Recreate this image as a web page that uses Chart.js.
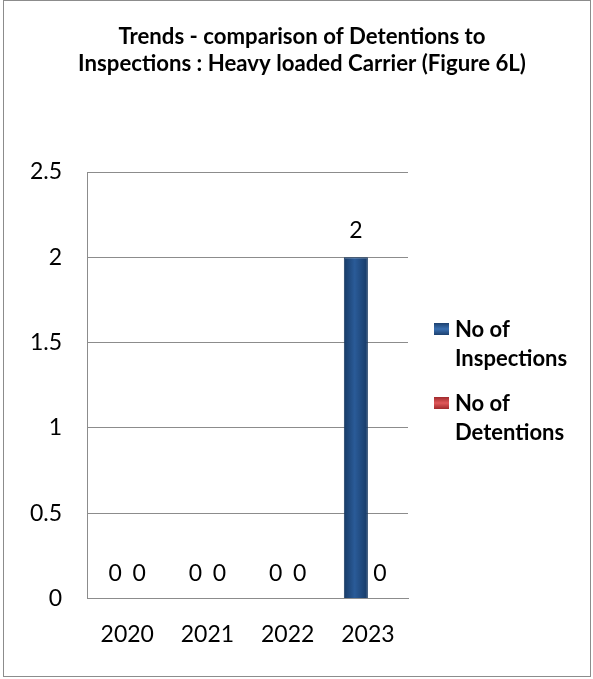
<!DOCTYPE html>
<html>
<head>
<meta charset="utf-8">
<script src="https://cdn.jsdelivr.net/npm/chart.js@4"></script>
<style>
  html, body { margin: 0; padding: 0; background: #fff; }
  #frame {
    position: absolute; left: 3px; top: 0;
    width: 586px; height: 675px;
    border: 1px solid #8c8c8c;
  }
  canvas { display: block; }
</style>
</head>
<body>
<div id="frame"><canvas id="chart" width="586" height="675"></canvas></div>
<script>
// data
const years       = ['2020', '2021', '2022', '2023'];
const inspections = [0, 0, 0, 2];
const detentions  = [0, 0, 0, 0];
const seriesNames = [['No of', 'Inspections'], ['No of', 'Detentions']];
const titleLines  = ['Trends - comparison of Detentions to', 'Inspections : Heavy loaded Carrier (Figure 6L)'];
const yTicks      = ['0', '0.5', '1', '1.5', '2', '2.5'];

const FONT = 'Lato, "Open Sans", sans-serif';

// cylinder-ish shading across each bar
function barFill(dark, light) {
  return function (c) {
    const xs = c.chart.scales.x;
    if (!xs || c.dataIndex === undefined) return light;
    const bw = xs.width / years.length * 0.6 / 2;
    const cx = xs.getPixelForValue(c.dataIndex) + (c.datasetIndex - 0.5) * bw;
    if (!isFinite(cx) || !isFinite(bw) || bw <= 0) return light;
    const g = c.chart.ctx.createLinearGradient(cx - bw / 2, 0, cx + bw / 2, 0);
    g.addColorStop(0, dark);
    g.addColorStop(0.45, light);
    g.addColorStop(1, dark);
    return g;
  };
}

// title drawn by hand so it can span the full width
const wideTitle = {
  id: 'wideTitle',
  afterDraw(chart) {
    const ctx = chart.ctx;
    ctx.save();
    ctx.font = 'bold 22.2px ' + FONT;
    ctx.fillStyle = '#000';
    ctx.textAlign = 'center';
    ctx.textBaseline = 'middle';
    titleLines.forEach((t, i) => ctx.fillText(t, 298, 36 + i * 27));
    ctx.restore();
  }
};

// value labels above each bar
const valueLabels = {
  id: 'valueLabels',
  afterDatasetsDraw(chart) {
    const ctx = chart.ctx;
    ctx.save();
    ctx.font = '23px ' + FONT;
    ctx.fillStyle = '#000';
    ctx.textAlign = 'center';
    ctx.textBaseline = 'bottom';
    chart.data.datasets.forEach((ds, i) => {
      chart.getDatasetMeta(i).data.forEach((bar, j) => {
        ctx.fillText(String(ds.data[j]), bar.x, bar.y - (ds.data[j] ? 15 : 13));
      });
    });
    ctx.restore();
  }
};

// legend on the right, two-line labels
const sideLegend = {
  id: 'sideLegend',
  afterDraw(chart) {
    const ctx = chart.ctx;
    const x = chart.chartArea.right + 26;
    let y = 328;
    ctx.save();
    ctx.font = 'bold 22px ' + FONT;
    ctx.textBaseline = 'middle';
    chart.data.datasets.forEach((ds, i) => {
      const g = ctx.createLinearGradient(0, y - 6, 0, y + 6);
      g.addColorStop(0, ds.legendDark);
      g.addColorStop(0.5, ds.legendColor);
      g.addColorStop(1, ds.legendDark);
      ctx.fillStyle = g;
      ctx.fillRect(x, y - 6, 15, 12);
      ctx.fillStyle = '#000';
      seriesNames[i].forEach((line, k) => {
        ctx.fillText(line, x + 21, y + 1 + k * 29);
      });
      y += 74;
    });
    ctx.restore();
  }
};

new Chart(document.getElementById('chart'), {
  type: 'bar',
  data: {
    labels: years,
    datasets: [
      {
        label: 'No of Inspections',
        data: inspections,
        backgroundColor: barFill('#173a66', '#2a5b98'),
        borderColor: '#163760',
        borderWidth: 1,
        legendColor: '#3a6fb0',
        legendDark: '#1d416f'
      }, {
        label: 'No of Detentions',
        data: detentions,
        backgroundColor: barFill('#8f2526', '#d0494b'),
        borderWidth: 0,
        legendColor: '#e0585a',
        legendDark: '#a02a2c'
      }
    ]
  },
  plugins: [wideTitle, valueLabels, sideLegend],
  options: {
    responsive: false,
    animation: false,
    devicePixelRatio: 1,
    layout: { padding: { top: 171, left: 1, right: 182, bottom: 14 } },
    categoryPercentage: 0.6,
    barPercentage: 1,
    plugins: {
      legend: { display: false },
      tooltip: { enabled: false },
      title: { display: false }
    },
    scales: {
      x: {
        grid: { display: false },
        border: { color: '#8c8c8c' },
        ticks: { color: '#000', padding: 14, font: { family: FONT, size: 23 } }
      },
      y: {
        min: 0,
        max: 2.5,
        ticks: {
          stepSize: 0.5, color: '#000', padding: 25,
          font: { family: FONT, size: 23 },
          callback: (v, i) => yTicks[i]
        },
        grid: { color: '#8c8c8c', drawTicks: false },
        border: { color: '#8c8c8c' }
      }
    }
  }
});
</script>
</body>
</html>
